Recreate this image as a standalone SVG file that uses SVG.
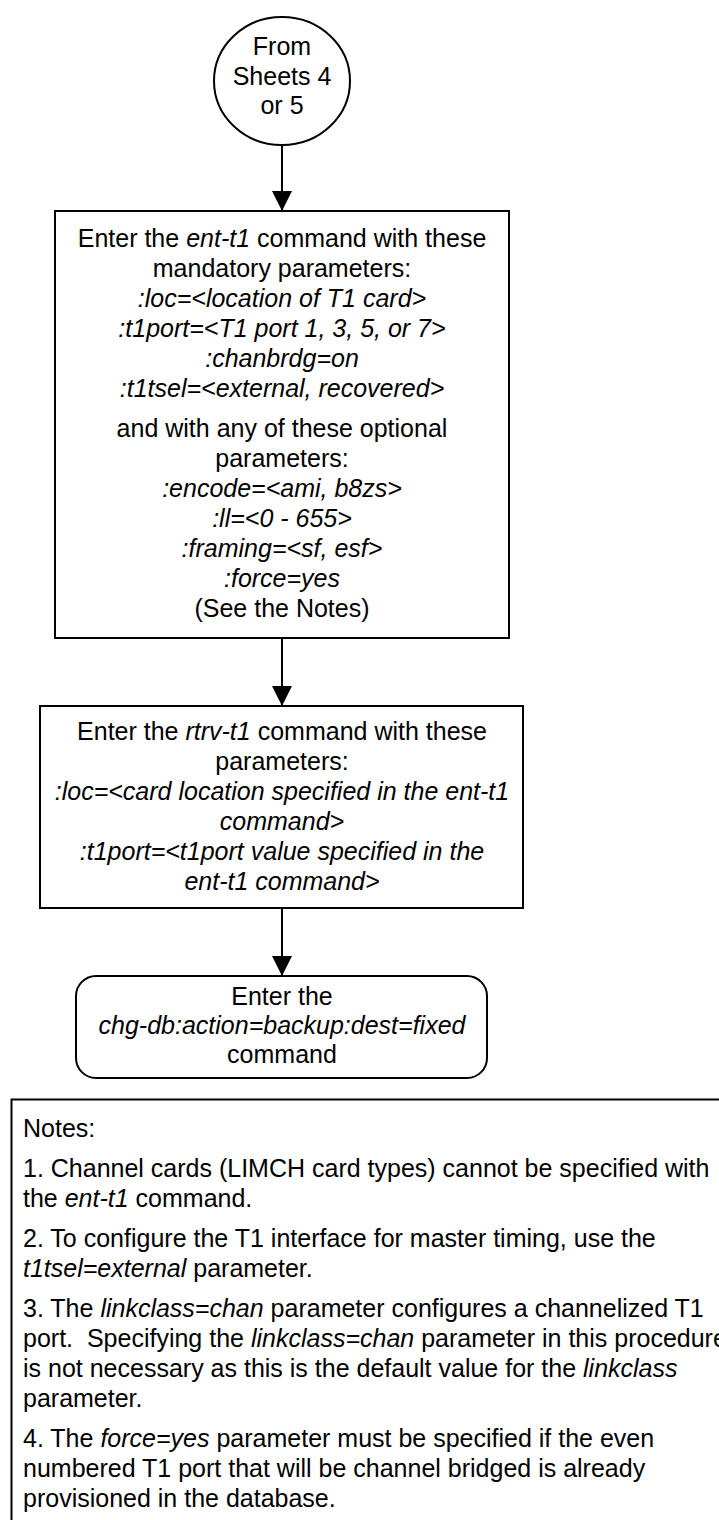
<svg xmlns="http://www.w3.org/2000/svg" width="719" height="1520" viewBox="0 0 719 1520">
  <style>
    text { font-family: "Liberation Sans", Arial, sans-serif; font-size: 25px; fill: #000; }
    .c { text-anchor: middle; }
    .i { font-style: italic; }
    .shape { fill: #fff; stroke: #000; stroke-width: 2; }
    .conn { stroke: #000; stroke-width: 2; fill: none; }
  </style>
  <defs>
    <marker id="arrow" markerUnits="userSpaceOnUse" markerWidth="20" markerHeight="20" refX="20" refY="10" orient="auto">
      <path d="M0,0 L20,10 L0,20 Z" fill="#000"/>
    </marker>
  </defs>
  <rect width="719" height="1520" fill="#fff"/>

  <g id="connectors">
    <line class="conn" x1="282" y1="145" x2="282" y2="211" marker-end="url(#arrow)"/>
    <line class="conn" x1="282" y1="638" x2="282" y2="706" marker-end="url(#arrow)"/>
    <line class="conn" x1="282" y1="908" x2="282" y2="976" marker-end="url(#arrow)"/>
  </g>

  <g id="start">
    <ellipse class="shape" cx="282" cy="81" rx="68" ry="64" stroke-width="1.6"/>
    <text class="c" x="282" y="55">From</text>
    <text class="c" x="282" y="85">Sheets 4</text>
    <text class="c" x="282" y="114">or 5</text>
  </g>

  <g id="ent-t1">
    <rect class="shape" x="55" y="211" width="454" height="427"/>
    <text class="c" x="282" y="247">Enter the <tspan class="i">ent-t1</tspan> command with these</text>
    <text class="c" x="282" y="277">mandatory parameters:</text>
    <text class="c i" x="282" y="307">:loc=&lt;location of T1 card&gt;</text>
    <text class="c i" x="282" y="337">:t1port=&lt;T1 port 1, 3, 5, or 7&gt;</text>
    <text class="c i" x="282" y="367">:chanbrdg=on</text>
    <text class="c i" x="282" y="397">:t1tsel=&lt;external, recovered&gt;</text>
    <text class="c" x="282" y="437">and with any of these optional</text>
    <text class="c" x="282" y="467">parameters:</text>
    <text class="c i" x="282" y="497">:encode=&lt;ami, b8zs&gt;</text>
    <text class="c i" x="282" y="527">:ll=&lt;0 - 655&gt;</text>
    <text class="c i" x="282" y="557">:framing=&lt;sf, esf&gt;</text>
    <text class="c i" x="282" y="587">:force=yes</text>
    <text class="c" x="282" y="617">(See the Notes)</text>
  </g>

  <g id="rtrv-t1">
    <rect class="shape" x="40" y="706" width="483" height="202"/>
    <text class="c" x="282" y="740">Enter the <tspan class="i">rtrv-t1</tspan> command with these</text>
    <text class="c" x="282" y="770">parameters:</text>
    <text class="c i" x="282" y="800">:loc=&lt;card location specified in the ent-t1</text>
    <text class="c i" x="282" y="830">command&gt;</text>
    <text class="c i" x="282" y="860">:t1port=&lt;t1port value specified in the</text>
    <text class="c i" x="282" y="890">ent-t1 command&gt;</text>
  </g>

  <g id="chg-db">
    <rect class="shape" x="76" y="976" width="411" height="102" rx="20" ry="20"/>
    <text class="c" x="282" y="1005">Enter the</text>
    <text class="c i" x="282" y="1034">chg-db:action=backup:dest=fixed</text>
    <text class="c" x="282" y="1063">command</text>
  </g>

  <g id="notes">
    <rect class="shape" x="11.5" y="1099.5" width="800" height="500"/>
    <text x="23" y="1137">Notes:</text>
    <text x="23" y="1177">1. Channel cards (LIMCH card types) cannot be specified with</text>
    <text x="23" y="1207">the <tspan class="i">ent-t1</tspan> command.</text>
    <text x="23" y="1247">2. To configure the T1 interface for master timing, use the</text>
    <text x="23" y="1277"><tspan class="i">t1tsel=external</tspan> parameter.</text>
    <text x="23" y="1317">3. The <tspan class="i">linkclass=chan</tspan> parameter configures a channelized T1</text>
    <text x="23" y="1347" xml:space="preserve">port.  Specifying the <tspan class="i">linkclass=chan</tspan> parameter in this procedure</text>
    <text x="23" y="1377">is not necessary as this is the default value for the <tspan class="i">linkclass</tspan></text>
    <text x="23" y="1407">parameter.</text>
    <text x="23" y="1447">4. The <tspan class="i">force=yes</tspan> parameter must be specified if the even</text>
    <text x="23" y="1477">numbered T1 port that will be channel bridged is already</text>
    <text x="23" y="1507">provisioned in the database.</text>
  </g>
</svg>
